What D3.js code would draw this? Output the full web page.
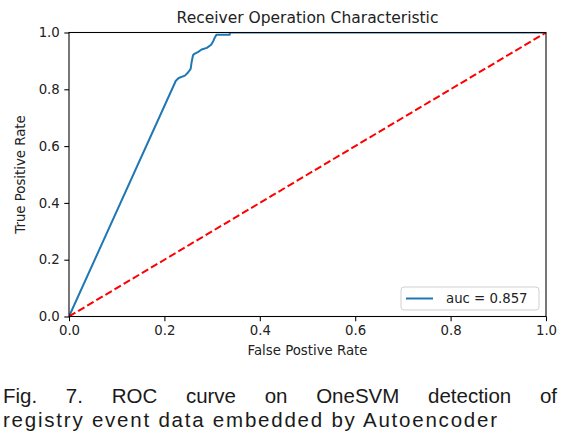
<!DOCTYPE html>
<html><head><meta charset="utf-8">
<script src="https://cdn.jsdelivr.net/npm/d3@7"></script>
<style>
html,body{margin:0;padding:0;background:#fff;}
svg{display:block;}
</style></head>
<body>
<script>
// ROC curve data
const fpr = [0, 0.224, 0.230, 0.243, 0.250, 0.255, 0.257, 0.260, 0.263, 0.271, 0.278, 0.289, 0.298, 0.302, 0.305, 0.309, 0.337, 0.337, 1.0];
const tpr = [0, 0.830, 0.840, 0.848, 0.860, 0.872, 0.895, 0.920, 0.925, 0.932, 0.940, 0.946, 0.957, 0.968, 0.980, 0.992, 0.992, 1.0, 1.0];
const chanceX = [0, 1];
const chanceY = [0, 1];
const tickValues = [0.0, 0.2, 0.4, 0.6, 0.8, 1.0];
const titleText = "Receiver Operation Characteristic";
const xLabel = "False Postive Rate";
const yLabel = "True Positive Rate";
const legendLabel = "auc = 0.857";
const captionLine1 = ["Fig.", "7.", "ROC", "curve", "on", "OneSVM", "detection", "of"];
const captionLine2 = "registry event data embedded by Autoencoder";

const W = 577, H = 445;
const L = 69, R = 546, T = 32.5, B = 316.5;
const font = "'DejaVu Sans', sans-serif";

const svg = d3.select("body").append("svg").attr("width", W).attr("height", H);

const x = d3.scaleLinear().domain([0, 1]).range([L, R]);
const y = d3.scaleLinear().domain([0, 1]).range([B, T]);

// lines
const pts = fpr.map((d, i) => [d, tpr[i]]);
const line = d3.line().x(d => x(d[0])).y(d => y(d[1]));
svg.append("clipPath").attr("id", "clip").append("rect")
  .attr("x", L).attr("y", T).attr("width", R - L).attr("height", B - T);
const g = svg.append("g").attr("clip-path", "url(#clip)");
g.append("path").datum(pts).attr("d", line)
  .attr("fill", "none").attr("stroke", "#1f77b4").attr("stroke-width", 2)
  .attr("stroke-linejoin", "round");
g.append("path").datum(chanceX.map((d, i) => [d, chanceY[i]])).attr("d", line)
  .attr("fill", "none").attr("stroke", "#ff0000").attr("stroke-width", 2)
  .attr("stroke-dasharray", "7.4,3.2");

// axes
const xAxis = d3.axisBottom(x).tickValues(tickValues).tickFormat(d3.format(".1f")).tickSize(4.7).tickPadding(4.5);
const yAxis = d3.axisLeft(y).tickValues(tickValues).tickFormat(d3.format(".1f")).tickSize(4.7).tickPadding(4.5);
const gx = svg.append("g").attr("transform", `translate(0,${B})`).call(xAxis);
const gy = svg.append("g").attr("transform", `translate(${L},0)`).call(yAxis);
[gx, gy].forEach(a => {
  a.select(".domain").remove();
  a.selectAll("line").attr("stroke", "#000").attr("stroke-width", 1.07);
  a.selectAll("text").attr("font-family", font).attr("font-size", 13.3).attr("fill", "#222");
});
// spines
svg.append("rect").attr("x", L).attr("y", T).attr("width", R - L).attr("height", B - T)
  .attr("fill", "none").attr("stroke", "#000").attr("stroke-width", 1.07);

// title and labels
svg.append("text").attr("x", (L + R) / 2).attr("y", 23).attr("text-anchor", "middle")
  .attr("font-family", font).attr("font-size", 15.5).attr("fill", "#222").text(titleText);
svg.append("text").attr("x", (L + R) / 2).attr("y", 355).attr("text-anchor", "middle")
  .attr("font-family", font).attr("font-size", 13.3).attr("fill", "#222").text(xLabel);
svg.append("text").attr("transform", `translate(25,${(T + B) / 2}) rotate(-90)`).attr("text-anchor", "middle")
  .attr("font-family", font).attr("font-size", 13.3).attr("fill", "#222").text(yLabel);

// legend
const lg = svg.append("g");
lg.append("rect").attr("x", 401).attr("y", 287).attr("width", 138).attr("height", 23).attr("rx", 3)
  .attr("fill", "#fff").attr("fill-opacity", 0.8).attr("stroke", "#d0d0d0").attr("stroke-width", 1);
lg.append("line").attr("x1", 406).attr("x2", 433).attr("y1", 298.5).attr("y2", 298.5)
  .attr("stroke", "#1f77b4").attr("stroke-width", 2);
lg.append("text").attr("x", 446).attr("y", 303).attr("font-family", font).attr("font-size", 13.3)
  .attr("fill", "#222").text(legendLabel);

// caption
const capFont = "'Liberation Sans', Arial, sans-serif";
const capSize = 20.5;
const l2 = svg.append("text").attr("x", 3).attr("y", 427).attr("font-family", capFont)
  .attr("font-size", capSize).attr("fill", "#1a1a1a").text(captionLine2);
// fit line 2 to its width in the picture
const w2 = l2.node().getComputedTextLength();
l2.attr("textLength", 494).attr("lengthAdjust", "spacing");
const scaleX = 494 / w2;
// line 1: justified words between x=3 and x=557
const words = captionLine1.map(w => {
  const t = svg.append("text").attr("y", 403).attr("font-family", capFont)
    .attr("font-size", capSize).attr("fill", "#1a1a1a").text(w);
  const wd = t.node().getComputedTextLength();
  return { t, wd };
});
const total = d3.sum(words, d => d.wd);
const gap = (554 - total) / (words.length - 1);
let cx = 3;
words.forEach(d => { d.t.attr("x", cx); cx += d.wd + gap; });
</script>
</body></html>
